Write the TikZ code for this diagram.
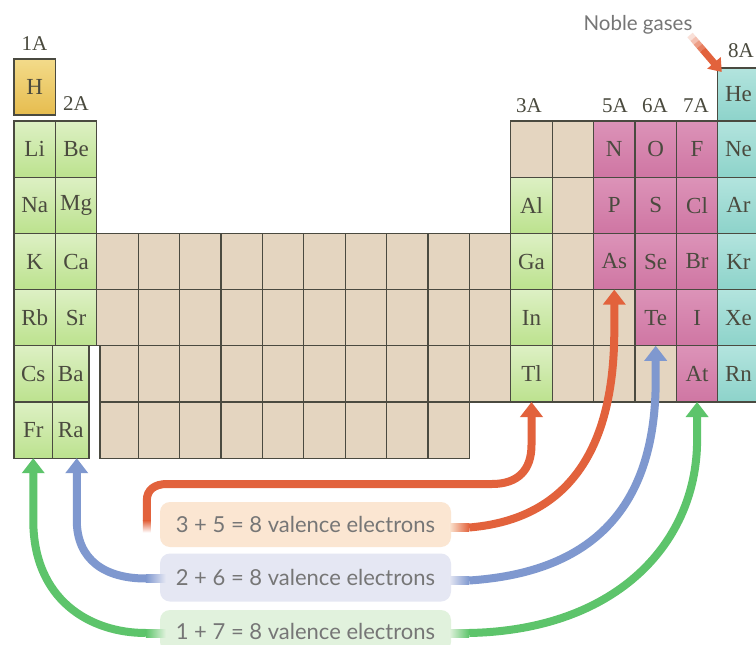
\documentclass[tikz,border=0pt]{standalone}
\usepackage{fontspec}
\setmainfont{Liberation Serif}
\newfontfamily\capfont{Lato}
\usetikzlibrary{arrows.meta,calc}

\definecolor{cellline}{HTML}{4A4A40}
\definecolor{beige}{HTML}{E4D5C0}
\definecolor{greentop}{HTML}{DDF0C4}
\definecolor{greenbot}{HTML}{BCE28E}
\definecolor{pinktop}{HTML}{DC93B8}
\definecolor{pinkbot}{HTML}{CF76A3}
\definecolor{tealtop}{HTML}{B3E4DE}
\definecolor{tealbot}{HTML}{8DD3CA}
\definecolor{goldtop}{HTML}{F3DB8A}
\definecolor{goldbot}{HTML}{E6BC4E}
\definecolor{symtext}{HTML}{4A4A3E}
\definecolor{arrorange}{HTML}{E2623C}
\definecolor{arrblue}{HTML}{7F98CF}
\definecolor{arrgreen}{HTML}{5DC46B}
\definecolor{boxorange}{HTML}{FBE6D2}
\definecolor{boxblue}{HTML}{E5E7F3}
\definecolor{boxgreen}{HTML}{E1F2DD}
\definecolor{captext}{HTML}{767676}

% one table cell, placed by column (0..17) and period row (0 = period 2)
\newcommand\elcell[5]{\node[#1] (#2) at ({14+41.4*#3},{121+56.2*#4}) {#5};}

\tikzset{
  cell/.style={draw=cellline, line width=1.1pt, minimum width=41.4pt,
    minimum height=56.2pt, inner sep=0pt, outer sep=0pt, anchor=north west,
    text=symtext, font=\fontsize{23}{23}\selectfont},
  greencell/.style={cell, top color=greentop, bottom color=greenbot},
  pinkcell/.style={cell, top color=pinktop, bottom color=pinkbot},
  tealcell/.style={cell, top color=tealtop, bottom color=tealbot},
  goldcell/.style={cell, top color=goldtop, bottom color=goldbot},
  beigecell/.style={cell, fill=beige},
  grouplabel/.style={text=symtext, font=\fontsize{21}{21}\selectfont, inner sep=0pt},
  sumbox/.style={rounded corners=10pt, minimum width=291pt, inner sep=0pt,
    text=captext, font=\capfont\fontsize{22}{22}\selectfont},
  flow/.style={line width=8pt, -{Triangle[width=22pt,length=15pt]}},
}

\begin{document}
\begin{tikzpicture}[x=1pt, y=-1pt]
\useasboundingbox (0,0) rectangle (756,645);
\fill[white] (0,0) rectangle (756,645);

% s-block
\node[goldcell, minimum height=56pt] (H) at (14,59) {H};
\elcell{greencell}{Li}{0}{0}{Li}
\elcell{greencell}{Be}{1}{0}{Be}
\elcell{greencell}{Na}{0}{1}{Na}
\elcell{greencell}{Mg}{1}{1}{Mg}
\elcell{greencell}{K}{0}{2}{K}
\elcell{greencell}{Ca}{1}{2}{Ca}
\elcell{greencell}{Rb}{0}{3}{Rb}
\elcell{greencell}{Sr}{1}{3}{Sr}
\node[greencell, minimum width=38.5pt] (Cs) at (14,345.8) {Cs};
\node[greencell, minimum width=36.5pt] (Ba) at (52.5,345.8) {Ba};
\node[greencell, minimum width=38.5pt] (Fr) at (14,402) {Fr};
\node[greencell, minimum width=36.5pt] (Ra) at (52.5,402) {Ra};

% transition block
\foreach \r in {2,3}{\foreach \c in {2,...,11}{
  \node[beigecell] (t-\c-\r) at ({14+41.4*\c},{121+56.2*\r}) {};}}
\node[beigecell, minimum width=38.2pt] (t-2-4) at (100,345.8) {};
\foreach \c in {3,...,11}{\node[beigecell] (t-\c-4) at ({14+41.4*\c},345.8) {};}
\node[beigecell, minimum width=38.2pt] (t-2-5) at (100,402) {};
\foreach \c in {3,...,10}{\node[beigecell] (t-\c-5) at ({14+41.4*\c},402) {};}

% p-block
\foreach \c/\r in {12/0,13/0,13/1,13/2,13/3,14/3,13/4,14/4,15/4}{
  \node[beigecell] (p-\c-\r) at ({14+41.4*\c},{121+56.2*\r}) {};}
\elcell{greencell}{Al}{12}{1}{Al}
\elcell{greencell}{Ga}{12}{2}{Ga}
\elcell{greencell}{In}{12}{3}{In}
\elcell{greencell}{Tl}{12}{4}{Tl}
\elcell{pinkcell}{N}{14}{0}{N}
\elcell{pinkcell}{O}{15}{0}{O}
\elcell{pinkcell}{F}{16}{0}{F}
\elcell{pinkcell}{P}{14}{1}{P}
\elcell{pinkcell}{S}{15}{1}{S}
\elcell{pinkcell}{Cl}{16}{1}{Cl}
\elcell{pinkcell}{As}{14}{2}{As}
\elcell{pinkcell}{Se}{15}{2}{Se}
\elcell{pinkcell}{Br}{16}{2}{Br}
\elcell{pinkcell}{Te}{15}{3}{Te}
\elcell{pinkcell}{I}{16}{3}{I}
\elcell{pinkcell}{At}{16}{4}{At}
\node[tealcell, minimum height=53pt] (He) at (717.8,68) {He};
\elcell{tealcell}{Ne}{17}{0}{Ne}
\elcell{tealcell}{Ar}{17}{1}{Ar}
\elcell{tealcell}{Kr}{17}{2}{Kr}
\elcell{tealcell}{Xe}{17}{3}{Xe}
\elcell{tealcell}{Rn}{17}{4}{Rn}

% group headings
\node[grouplabel] (g1) at (34.5,44) {1A};
\node[grouplabel] (g2) at (76,104) {2A};
\node[grouplabel] (g3) at (529,106) {3A};
\node[grouplabel] (g5) at (615,106) {5A};
\node[grouplabel] (g6) at (655,106) {6A};
\node[grouplabel] (g7) at (696,106) {7A};
\node[grouplabel] (g8) at (741,51) {8A};
\node[text=captext, font=\capfont\fontsize{20.5}{20.5}\selectfont] (noble) at (638,25) {Noble gases};

% arrow onto the noble gases column
\coordinate (ngtail) at (690,35);
\coordinate (ngtip) at ($(He.north west)+(4,4)$);
\foreach \a/\p in {0/20,0.1/40,0.2/62,0.3/82}{
  \draw[line width=7pt, arrorange!\p] ($(ngtail)!\a!(ngtip)$) -- ($(ngtail)!\a+0.1!(ngtip)$);}
\draw[line width=7pt, arrorange, -{Triangle[width=17pt,length=12pt]}]
  ($(ngtail)!0.4!(ngtip)$) -- (ngtip);

% sum labels
\node[sumbox, fill=boxorange, minimum height=45pt] (lab35) at (305.5,524.5) {3 + 5 = 8 valence electrons};
\node[sumbox, fill=boxblue, minimum height=48pt] (lab26) at (305.5,577.5) {2 + 6 = 8 valence electrons};
\node[sumbox, fill=boxgreen, minimum height=42pt] (lab17) at (305.5,631) {1 + 7 = 8 valence electrons};

% connectors from the sums to the groups
\coordinate (oL) at ($(lab35.west)+(-13,-4)$);
\coordinate (oR) at ($(lab35.east)+(18,3)$);
\coordinate (bL) at ($(lab26.west)+(-14,1)$);
\coordinate (bR) at ($(lab26.east)+(18,3)$);
\coordinate (gL) at ($(lab17.west)+(-14,2)$);
\coordinate (gR) at ($(lab17.east)+(18,2)$);

\draw[flow, arrorange] (oL) -- ++(0,-20) .. controls +(0,-11) and (155,484) .. (167,484)
  -- (492,484) .. controls (518,484) and (531.5,470) .. (531.5,445) -- (Tl.south);
\draw[flow, arrorange] (oR) .. controls (560,520) and (614.3,460) .. (614.3,330) -- (As.south);
\draw[flow, arrblue] (bL) .. controls (105,578.5) and (76.75,560) .. (76.75,520) -- ($(Ra.south)+(6,0)$);
\draw[flow, arrblue] (bR) .. controls (600,572) and (655.7,500) .. (655.7,380) -- (Te.south);
\draw[flow, arrgreen] (gL) .. controls (90,633) and (33.25,600) .. (33.25,520) -- (Fr.south);
\draw[flow, arrgreen] (gR) .. controls (620,630) and (697.1,540) .. (697.1,440) -- (At.south);

% soft ends where the connectors meet the labels
\shade[top color=arrorange, bottom color=white] ($(oL)+(-4,0)$) rectangle ($(oL)+(4,12)$);
\shade[left color=boxorange, right color=arrorange] ($(oR)+(-20,-4)$) rectangle ($(oR)+(0,4)$);
\shade[left color=arrblue, right color=boxblue] ($(bL)+(0,-4)$) rectangle ($(bL)+(20,4)$);
\shade[left color=boxblue, right color=arrblue] ($(bR)+(-20,-4)$) rectangle ($(bR)+(0,4)$);
\shade[left color=arrgreen, right color=boxgreen] ($(gL)+(0,-4)$) rectangle ($(gL)+(20,4)$);
\shade[left color=boxgreen, right color=arrgreen] ($(gR)+(-20,-4)$) rectangle ($(gR)+(0,4)$);
\end{tikzpicture}
\end{document}
